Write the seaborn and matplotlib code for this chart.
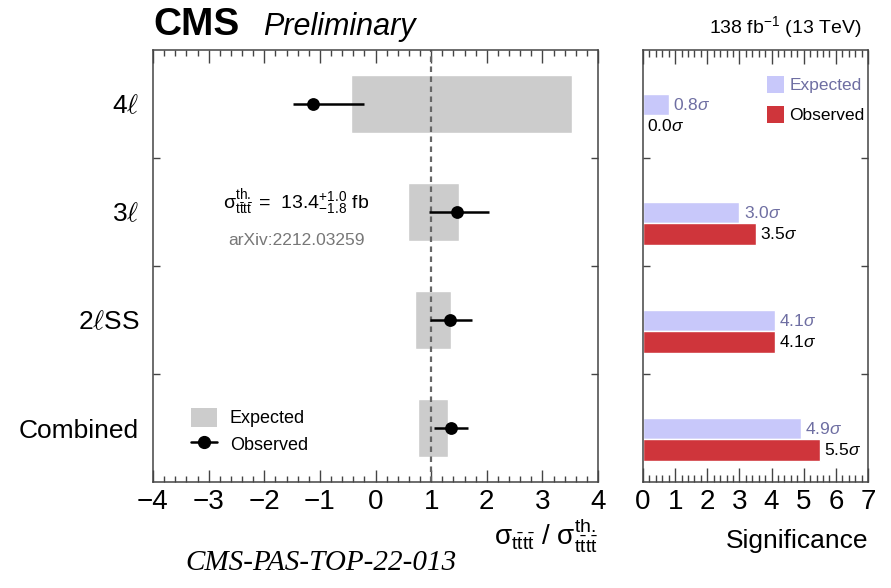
import numpy as np
import matplotlib
matplotlib.use("Agg")
import matplotlib.pyplot as plt
from matplotlib.ticker import MultipleLocator
from matplotlib.patches import Patch
from matplotlib.lines import Line2D
import seaborn as sns

# ---- data -------------------------------------------------------------
channels = ["4$\\ell$", "3$\\ell$", "2$\\ell$SS", "Combined"]
# expected 68% interval on the signal strength (grey boxes)
exp_lo = [-0.44, 0.59, 0.71, 0.77]
exp_hi = [3.53, 1.50, 1.36, 1.31]
# observed signal strength with its interval
obs_mu = [-1.13, 1.47, 1.34, 1.36]
obs_lo = [-1.49, 0.96, 0.98, 1.05]
obs_hi = [-0.20, 2.04, 1.74, 1.67]
# significances
sig_exp = [0.8, 3.0, 4.1, 4.9]
sig_obs = [0.0, 3.5, 4.1, 5.5]

# ---- style ------------------------------------------------------------
sns.set_style("ticks")
plt.rcParams["font.family"] = ["Liberation Sans", "DejaVu Sans"]
plt.rcParams["mathtext.fontset"] = "custom"
plt.rcParams["mathtext.rm"] = "Liberation Sans"
plt.rcParams["mathtext.it"] = "Liberation Sans:italic"
plt.rcParams["mathtext.bf"] = "Liberation Sans:bold"
plt.rcParams["mathtext.sf"] = "Liberation Sans"
plt.rcParams["text.color"] = "black"
plt.rcParams["axes.labelcolor"] = "black"
plt.rcParams["axes.edgecolor"] = "#444444"
plt.rcParams["axes.linewidth"] = 1.1
plt.rcParams["xtick.color"] = "#444444"
plt.rcParams["ytick.color"] = "#444444"
plt.rcParams["xtick.labelcolor"] = "black"
plt.rcParams["ytick.labelcolor"] = "black"

GREY = "#cccccc"
LAV = "#c8c8fa"
LAV_TXT = "#6e6ea2"
RED = "#cf353b"

fig = plt.figure(figsize=(8.91, 5.88), dpi=100)
axl = fig.add_axes([153 / 891, 106 / 588, 445 / 891, 432 / 588])
axr = fig.add_axes([643 / 891, 106 / 588, 225 / 891, 432 / 588])

rows = np.arange(len(channels))

# ---- left panel: signal strength ----------------------------------------
lo = np.array(exp_lo)
hi = np.array(exp_hi)
axl.barh(rows, hi - lo, left=lo, height=0.54, color=GREY, zorder=1)
axl.axvline(1.0, color="#666666", ls=(0, (2.5, 2.0)), lw=1.6, zorder=2)
axl.hlines(rows, obs_lo, obs_hi, color="black", lw=1.8, zorder=3)
sns.scatterplot(x=obs_mu, y=rows, ax=axl, color="black", s=85,
                edgecolor="black", linewidth=0, zorder=4, legend=False)

axl.set_xlim(-4, 4)
axl.set_ylim(3.5, -0.5)
axl.xaxis.set_major_locator(MultipleLocator(1))
axl.xaxis.set_minor_locator(MultipleLocator(0.2))
axl.tick_params(axis="x", which="major", direction="in", length=9, width=1,
                top=True, bottom=True, labelsize=20, pad=5)
axl.tick_params(axis="x", which="minor", direction="in", length=4.5, width=1,
                top=True, bottom=True)
axl.set_yticks(rows)
axl.set_yticklabels(channels)
for lbl in axl.get_yticklabels():
    lbl.set_math_fontfamily("cm")
axl.set_yticks([0.5, 1.5, 2.5], minor=True)
axl.tick_params(axis="y", which="major", length=0, pad=10, labelsize=19)
axl.tick_params(axis="y", which="minor", direction="in", length=5, width=1,
                left=True, right=True)
for s in axl.spines.values():
    s.set_visible(True)
axl.set_xlabel("")
axl.set_ylabel("")

axl.text(0.157, 0.646,
         "$\\mathrm{\\sigma}^{\\mathrm{th.}}_{\\mathrm{t\\bar{t}t\\bar{t}}}$ =  "
         "13.4$^{+1.0}_{-1.8}$ fb",
         transform=axl.transAxes, fontsize=14, va="center", ha="left")
axl.text(0.169, 0.560, "arXiv:2212.03259", transform=axl.transAxes,
         fontsize=12.5, color="#777777", va="center", ha="left")

handles = [Patch(facecolor=GREY, edgecolor="none"),
           Line2D([], [], color="black", lw=1.8, marker="o", markersize=8.5)]
leg = axl.legend(handles, ["Expected", "Observed"], loc="upper left",
                 bbox_to_anchor=(0.085, 0.172), frameon=False, fontsize=13,
                 handlelength=1.45, handleheight=1.25, labelspacing=0.38,
                 handletextpad=0.7, borderpad=0, borderaxespad=0)

axl.text(1.0, -0.147,
         "$\\mathrm{\\sigma}_{\\mathrm{t\\bar{t}t\\bar{t}}}$ / "
         "$\\mathrm{\\sigma}^{\\mathrm{th.}}_{\\mathrm{t\\bar{t}t\\bar{t}}}$",
         transform=axl.transAxes, fontsize=20, ha="right", va="baseline")

# ---- right panel: significance ------------------------------------------
be = axr.barh(rows + 0.005, sig_exp, height=0.19, color=LAV, zorder=2)
bo = axr.barh(rows + 0.205, sig_obs, height=0.20, color=RED, zorder=2)
axr.bar_label(be, labels=[f"{v:.1f}$\\sigma$" for v in sig_exp],
              padding=3, color=LAV_TXT, fontsize=12.5)
axr.bar_label(bo, labels=[f"{v:.1f}$\\sigma$" for v in sig_obs],
              padding=3, color="black", fontsize=12.5)

axr.set_xlim(0, 7)
axr.set_ylim(3.5, -0.5)
axr.xaxis.set_major_locator(MultipleLocator(1))
axr.xaxis.set_minor_locator(MultipleLocator(0.2))
axr.tick_params(axis="x", which="major", direction="in", length=10, width=1,
                top=True, bottom=True, labelsize=20, pad=5)
axr.tick_params(axis="x", which="minor", direction="in", length=5, width=1,
                top=True, bottom=True)
axr.set_yticks([])
axr.set_yticks([0.5, 1.5, 2.5], minor=True)
axr.tick_params(axis="y", which="minor", direction="in", length=5, width=1,
                left=True, right=True, labelleft=False)
for s in axr.spines.values():
    s.set_visible(True)

rleg = axr.legend([Patch(facecolor=LAV, edgecolor="none"),
                   Patch(facecolor=RED, edgecolor="none")],
                  ["Expected", "Observed"], loc="upper left",
                  bbox_to_anchor=(0.551, 0.94), frameon=False, fontsize=12.5,
                  handlelength=1.0, handleheight=1.15, labelspacing=0.72,
                  handletextpad=0.3, borderpad=0, borderaxespad=0)
rleg.get_texts()[0].set_color(LAV_TXT)

axr.text(1.0, -0.153, "Significance", transform=axr.transAxes,
         fontsize=19, ha="right", va="baseline")

# ---- header / footer ----------------------------------------------------
fig.text(153 / 891, 0.940, "CMS", fontsize=28, fontweight="bold",
         ha="left", va="baseline")
fig.text(263 / 891, 0.940, "Preliminary", fontsize=22, style="italic",
         ha="left", va="baseline")
fig.text(862 / 891, 0.944, "138 fb$^{-1}$ (13 TeV)", fontsize=14,
         ha="right", va="baseline")
fig.text(185 / 891, 0.031, "CMS-PAS-TOP-22-013", fontsize=21,
         family=["Liberation Serif", "DejaVu Serif"], style="italic",
         ha="left", va="baseline")

fig.savefig("out.png", dpi=100)
